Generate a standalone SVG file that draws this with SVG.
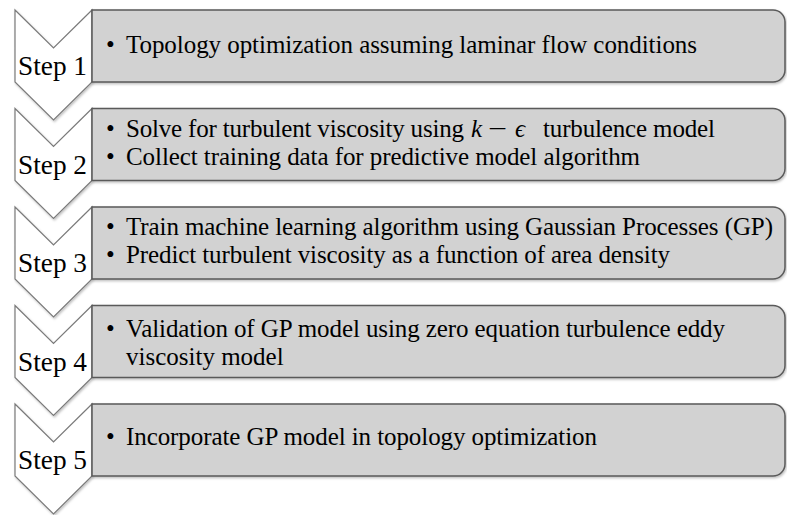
<svg xmlns="http://www.w3.org/2000/svg" width="787" height="515" viewBox="0 0 787 515">
<defs>
<style>
.chev{fill:#ffffff;stroke:#7a7a7a;stroke-width:1.2}
.box{fill:#d2d2d2;stroke:#5a5a5a;stroke-width:1.5}
.step{font-family:"Liberation Serif","Times New Roman",serif;font-size:28px;fill:#000}
.t{font-family:"Liberation Serif","Times New Roman",serif;font-size:25px;fill:#000}
.m{font-style:italic}
</style>
<filter id="sh" x="-5%" y="-5%" width="110%" height="120%">
<feDropShadow dx="1" dy="1.5" stdDeviation="1" flood-color="#000" flood-opacity="0.25"/>
</filter>
</defs>
<rect width="787" height="515" fill="#ffffff"/>
<g id="connectors"></g>
<g id="step1">
<path class="chev" filter="url(#sh)" d="M15,10 L53.5,48 L92,10 L92,82 L53.5,120 L15,82 Z"/>
<path class="box" filter="url(#sh)" d="M92,10 H773 A12,12 0 0 1 785,22 V70 A12,12 0 0 1 773,82 H92 Z"/>
<text class="step" x="18" y="75" textLength="69" lengthAdjust="spacingAndGlyphs">Step 1</text>
<text class="t" x="106" y="53">•</text>
<text class="t" x="126" y="53" textLength="571" lengthAdjust="spacing">Topology optimization assuming laminar flow conditions</text>
</g>
<g id="step2">
<path class="chev" filter="url(#sh)" d="M15,108.5 L53.5,146.5 L92,108.5 L92,180.5 L53.5,218.5 L15,180.5 Z"/>
<path class="box" filter="url(#sh)" d="M92,108.5 H773 A12,12 0 0 1 785,120.5 V168.5 A12,12 0 0 1 773,180.5 H92 Z"/>
<text class="step" x="18" y="173.5" textLength="69" lengthAdjust="spacingAndGlyphs">Step 2</text>
<text class="t" x="106" y="137">•</text>
<text class="t" x="126" y="137" textLength="338" lengthAdjust="spacing">Solve for turbulent viscosity using</text>
<text class="t m" x="471" y="137">k</text>
<text class="t" x="488" y="137" textLength="19" lengthAdjust="spacingAndGlyphs">−</text>
<text class="t m" x="515" y="137">ϵ</text>
<text class="t" x="543" y="137" textLength="172" lengthAdjust="spacing">turbulence model</text>
<text class="t" x="106" y="165">•</text>
<text class="t" x="126" y="165" textLength="514" lengthAdjust="spacing">Collect training data for predictive model algorithm</text>
</g>
<g id="step3">
<path class="chev" filter="url(#sh)" d="M15,207 L53.5,245 L92,207 L92,279 L53.5,317 L15,279 Z"/>
<path class="box" filter="url(#sh)" d="M92,207 H773 A12,12 0 0 1 785,219 V267 A12,12 0 0 1 773,279 H92 Z"/>
<text class="step" x="18" y="272" textLength="69" lengthAdjust="spacingAndGlyphs">Step 3</text>
<text class="t" x="106" y="235">•</text>
<text class="t" x="126" y="235" textLength="647" lengthAdjust="spacing">Train machine learning algorithm using Gaussian Processes (GP)</text>
<text class="t" x="106" y="263">•</text>
<text class="t" x="126" y="263" textLength="544" lengthAdjust="spacing">Predict turbulent viscosity as a function of area density</text>
</g>
<g id="step4">
<path class="chev" filter="url(#sh)" d="M15,305.5 L53.5,343.5 L92,305.5 L92,377.5 L53.5,415.5 L15,377.5 Z"/>
<path class="box" filter="url(#sh)" d="M92,305.5 H773 A12,12 0 0 1 785,317.5 V365.5 A12,12 0 0 1 773,377.5 H92 Z"/>
<text class="step" x="18" y="370.5" textLength="69" lengthAdjust="spacingAndGlyphs">Step 4</text>
<text class="t" x="106" y="337">•</text>
<text class="t" x="126" y="337" textLength="599" lengthAdjust="spacing">Validation of GP model using zero equation turbulence eddy</text>
<text class="t" x="126" y="365">viscosity model</text>
</g>
<g id="step5">
<path class="chev" filter="url(#sh)" d="M15,404 L53.5,442 L92,404 L92,476 L53.5,514 L15,476 Z"/>
<path class="box" filter="url(#sh)" d="M92,404 H773 A12,12 0 0 1 785,416 V464 A12,12 0 0 1 773,476 H92 Z"/>
<text class="step" x="18" y="469" textLength="69" lengthAdjust="spacingAndGlyphs">Step 5</text>
<text class="t" x="106" y="445">•</text>
<text class="t" x="126" y="445" textLength="471" lengthAdjust="spacing">Incorporate GP model in topology optimization</text>
</g>
</svg>
